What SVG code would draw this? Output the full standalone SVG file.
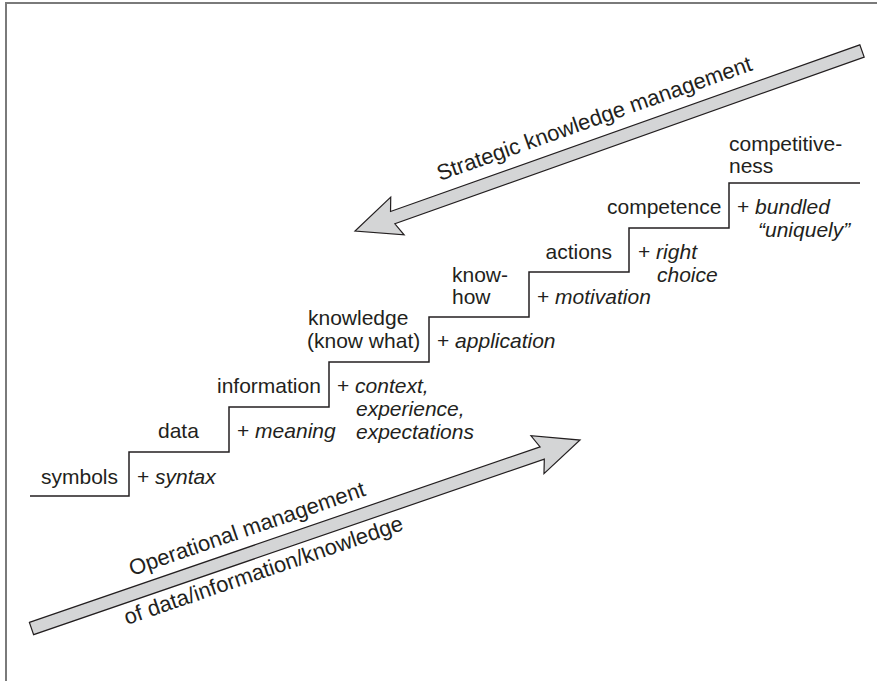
<svg xmlns="http://www.w3.org/2000/svg" width="877" height="681" viewBox="0 0 877 681">
  <style>
    text { font-family: "Liberation Sans", Arial, sans-serif; font-size: 21px; fill: #231f20; }
    .it { font-style: italic; }
    .lbl { font-size: 22px; }
    .stair { fill: none; stroke: #231f20; stroke-width: 1.5; }
    .arrow { fill: #d4d5d6; stroke: #231f20; stroke-width: 1.2; stroke-linejoin: miter; }
    .frame { fill: none; stroke: #7a7a7a; stroke-width: 2; }
  </style>
  <rect width="877" height="681" fill="#ffffff"/>
  <path class="frame" d="M6,681 V3 H877"/>

  <g id="connectors">
    <path id="staircase" class="stair" d="M30,496 H129 V452 H229 V407 H329 V362 H429 V317 H529 V272 H629 V228 H729 V183 H860"/>
  </g>

  <g id="strategic-arrow">
    <polygon class="arrow" transform="translate(862,51) rotate(160.45)" points="0,-6.5 498,-6.5 493,-20 538,0 493,20 498,6.5 0,6.5"/>
    <text class="lbl" transform="translate(440,181) rotate(-19.5)">Strategic knowledge management</text>
  </g>

  <g id="operational-arrow">
    <polygon class="arrow" transform="translate(31.5,628.5) rotate(-18.96)" points="0,-6.5 540,-6.5 535,-20 580,0 535,20 540,6.5 0,6.5"/>
    <text class="lbl" transform="translate(132,576) rotate(-18.96)">Operational management</text>
    <text class="lbl" transform="translate(127,625) rotate(-18.96)">of data/information/knowledge</text>
  </g>

  <g id="symbols">
    <text x="118" y="484" text-anchor="end">symbols</text>
    <text x="137" y="484">+ <tspan class="it">syntax</tspan></text>
  </g>
  <g id="data">
    <text x="158" y="438">data</text>
    <text x="237" y="438">+ <tspan class="it">meaning</tspan></text>
  </g>
  <g id="information">
    <text x="217" y="393">information</text>
    <text x="337" y="393">+ <tspan class="it">context,</tspan></text>
    <text x="356" y="416" class="it">experience,</text>
    <text x="356" y="439" class="it">expectations</text>
  </g>
  <g id="knowledge">
    <text x="308" y="325">knowledge</text>
    <text x="307" y="348">(know what)</text>
    <text x="437" y="348">+ <tspan class="it">application</tspan></text>
  </g>
  <g id="know-how">
    <text x="452" y="282">know-</text>
    <text x="452" y="304">how</text>
    <text x="537" y="304">+ <tspan class="it">motivation</tspan></text>
  </g>
  <g id="actions">
    <text x="612" y="259" text-anchor="end">actions</text>
    <text x="638" y="259">+ <tspan class="it">right</tspan></text>
    <text x="657" y="282" class="it">choice</text>
  </g>
  <g id="competence">
    <text x="607" y="214">competence</text>
    <text x="737" y="214">+ <tspan class="it">bundled</tspan></text>
    <text x="758" y="237" class="it">“uniquely”</text>
  </g>
  <g id="competitiveness">
    <text x="729" y="151">competitive-</text>
    <text x="729" y="173">ness</text>
  </g>
</svg>
